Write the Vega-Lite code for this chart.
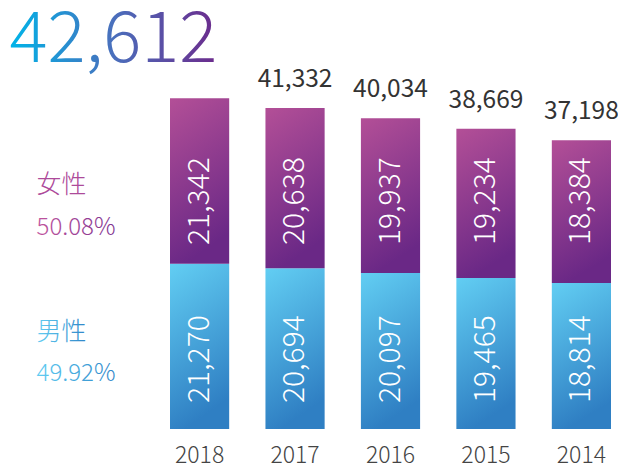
{
  "$schema": "https://vega.github.io/schema/vega-lite/v6.json",
  "width": 441,
  "height": 427,
  "autosize": {"type": "none"},
  "padding": {"left": 170, "top": 2, "right": 7, "bottom": 37},
  "background": "white",
  "config": {
    "view": {"stroke": null},
    "font": "Noto Sans CJK SC",
    "axis": {"domain": false, "ticks": false, "grid": false, "title": null, "labelFontSize": 23, "labelColor": "#444444", "labelPadding": 33, "labelBaseline": "alphabetic", "labelFont": "Noto Sans CJK SC", "labelFontWeight": 300, "labelAngle": 0}
  },
  "data": {
    "values": [
      {"year": "2018", "male": 21270, "female": 21342, "total": 42612},
      {"year": "2017", "male": 20694, "female": 20638, "total": 41332},
      {"year": "2016", "male": 20097, "female": 19937, "total": 40034},
      {"year": "2015", "male": 19465, "female": 19234, "total": 38669},
      {"year": "2014", "male": 18814, "female": 18384, "total": 37198}
    ]
  },
  "encoding": {
    "x": {"field": "year", "type": "nominal", "sort": null, "scale": {"paddingInner": 0.38, "paddingOuter": 0}, "axis": {}}
  },
  "layer": [
    {
      "mark": {"type": "bar", "color": {"gradient": "linear", "x1": 0, "y1": 0, "x2": 0.25, "y2": 1, "stops": [{"offset": 0, "color": "#62cef3"}, {"offset": 1, "color": "#2f7fc3"}]}},
      "encoding": {
        "y": {"field": "male", "type": "quantitative", "scale": {"domain": [0, 55000], "nice": false, "zero": true}, "axis": null}
      }
    },
    {
      "mark": {"type": "bar", "color": {"gradient": "linear", "x1": 0, "y1": 0, "x2": 0.25, "y2": 1, "stops": [{"offset": 0, "color": "#b34f97"}, {"offset": 1, "color": "#6a2886"}]}},
      "encoding": {
        "y": {"field": "total", "type": "quantitative"},
        "y2": {"field": "male"}
      }
    },
    {
      "mark": {"type": "text", "angle": 270, "align": "left", "baseline": "middle", "fontSize": 30, "fontWeight": 300, "color": "white"},
      "encoding": {
        "y": {"datum": 3350, "type": "quantitative"},
        "text": {"field": "male", "type": "quantitative", "format": ","}
      }
    },
    {
      "mark": {"type": "text", "angle": 270, "align": "left", "baseline": "middle", "fontSize": 30, "fontWeight": 300, "color": "white"},
      "encoding": {
        "y": {"datum": 23700, "type": "quantitative"},
        "text": {"field": "female", "type": "quantitative", "format": ","}
      }
    },
    {
      "transform": [{"filter": "datum.year != '2018'"}],
      "mark": {"type": "text", "align": "center", "baseline": "alphabetic", "dy": -21, "fontSize": 24.5, "fontWeight": 400, "color": "#333333"},
      "encoding": {
        "y": {"field": "total", "type": "quantitative"},
        "text": {"field": "total", "type": "quantitative", "format": ","}
      }
    },
    {
      "transform": [{"filter": "datum.year == '2018'"}],
      "mark": {"type": "text", "align": "left", "baseline": "alphabetic", "dx": -190, "fontSize": 71, "fontWeight": 300, "color": {"gradient": "linear", "x1": 0, "y1": 0, "x2": 1, "y2": 0, "stops": [{"offset": 0, "color": "#00b4e8"}, {"offset": 0.5, "color": "#4a6fbc"}, {"offset": 1, "color": "#6c2b8c"}]}},
      "encoding": {
        "y": {"datum": 47270, "type": "quantitative"},
        "text": {"field": "total", "type": "quantitative", "format": ","}
      }
    },
    {
      "transform": [{"filter": "datum.year == '2018'"}],
      "mark": {"type": "text", "text": "女性", "align": "left", "baseline": "alphabetic", "dx": -163, "fontSize": 25, "fontWeight": 300, "color": "#ad4a9a"},
      "encoding": {"y": {"datum": 30400, "type": "quantitative"}}
    },
    {
      "transform": [{"filter": "datum.year == '2018'"}],
      "mark": {"type": "text", "text": "50.08%", "align": "left", "baseline": "alphabetic", "dx": -163, "fontSize": 24, "fontWeight": 300, "color": {"gradient": "linear", "x1": 0, "y1": 0, "x2": 1, "y2": 0, "stops": [{"offset": 0, "color": "#c0559e"}, {"offset": 1, "color": "#7e3390"}]}},
      "encoding": {"y": {"datum": 24990, "type": "quantitative"}}
    },
    {
      "transform": [{"filter": "datum.year == '2018'"}],
      "mark": {"type": "text", "text": "男性", "align": "left", "baseline": "alphabetic", "dx": -163, "fontSize": 25, "fontWeight": 300, "color": {"gradient": "linear", "x1": 0, "y1": 0, "x2": 1, "y2": 0, "stops": [{"offset": 0, "color": "#62cdf2"}, {"offset": 1, "color": "#2f86c8"}]}},
      "encoding": {"y": {"datum": 11460, "type": "quantitative"}}
    },
    {
      "transform": [{"filter": "datum.year == '2018'"}],
      "mark": {"type": "text", "text": "49.92%", "align": "left", "baseline": "alphabetic", "dx": -163, "fontSize": 24, "fontWeight": 300, "color": {"gradient": "linear", "x1": 0, "y1": 0, "x2": 1, "y2": 0, "stops": [{"offset": 0, "color": "#62cdf2"}, {"offset": 1, "color": "#2f86c8"}]}},
      "encoding": {"y": {"datum": 6180, "type": "quantitative"}}
    }
  ]
}
